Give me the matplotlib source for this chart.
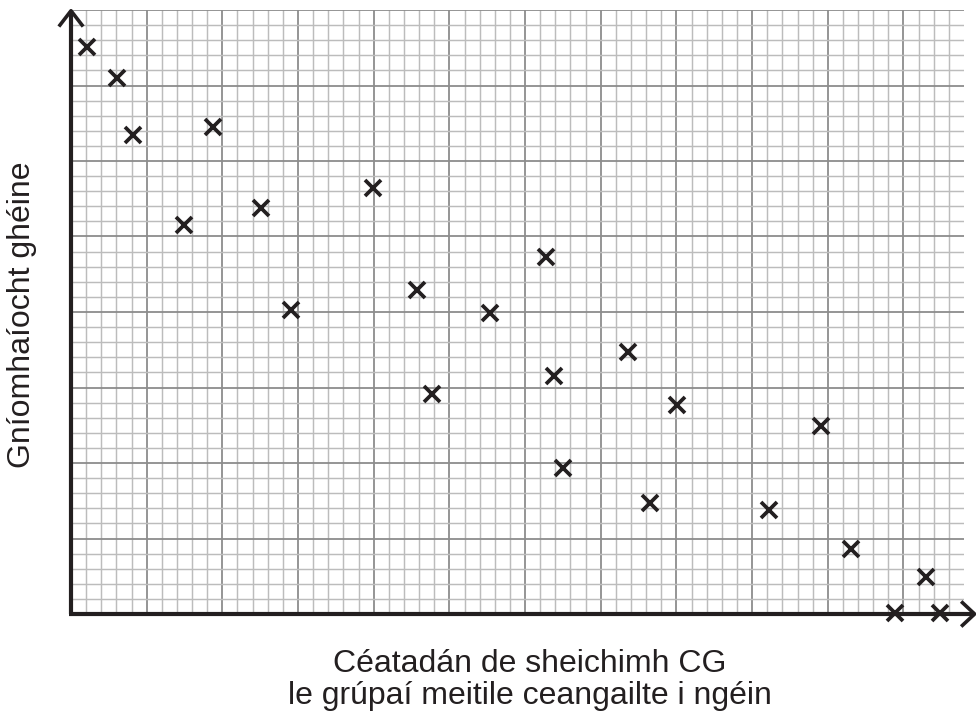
import matplotlib
matplotlib.use("Agg")
import matplotlib.pyplot as plt
import numpy as np

# Data (x in small grid squares, y in small grid squares)
x_vals = [1.04, 3.04, 4.11, 9.36, 7.48, 12.53, 14.53, 19.93, 22.83, 23.82, 27.67,
          31.37, 31.90, 32.52, 36.81, 38.24, 40.01, 46.12, 49.54, 51.52, 56.52,
          54.47, 57.44]
y_vals = [37.57, 35.48, 31.72, 32.27, 25.76, 26.87, 20.13, 28.19, 21.46, 14.55, 19.91,
          23.66, 15.76, 9.65, 17.37, 7.37, 13.84, 6.89, 12.45, 4.32, 2.47,
          0.05, 0.05]

x_label = "Céatadán de sheichimh CG\nle grúpaí meitile ceangailte i ngéin"
y_label = "Gníomhaíocht ghéine"

W, H = 976, 717
fig = plt.figure(figsize=(W / 100, H / 100), dpi=100)
left, right, top, bottom = 71, 964, 10, 614
ax = fig.add_axes([left / W, (H - bottom) / H, (right - left) / W, (bottom - top) / H])
ax.set_xlim(0, 59)
ax.set_ylim(0, 40)

# grid
for v in np.arange(1, 59):
    major = (v % 5 == 0)
    ax.axvline(v, color="#8c8c8c" if major else "#bcbcbc", lw=1.3 if major else 1.05, zorder=1)
for v in np.arange(1, 41):
    major = (v % 5 == 0)
    ax.axhline(v, color="#8c8c8c" if major else "#bcbcbc", lw=1.3 if major else 1.05, zorder=1)

for s in ax.spines.values():
    s.set_visible(False)
ax.set_xticks([])
ax.set_yticks([])

dark = "#231f20"
# axes lines with arrows
ax.plot([0, 0], [0, 39.95], color=dark, lw=3, clip_on=False, zorder=3, solid_capstyle="butt")
ax.plot([-0.73, 0, 0.73], [39.0, 39.95, 39.0], color=dark, lw=2.6, clip_on=False, zorder=3)
ax.plot([-0.1, 59.7], [0, 0], color=dark, lw=3, clip_on=False, zorder=3, solid_capstyle="butt")
ax.plot([58.9, 59.7, 58.9], [0.75, 0, -0.75], color=dark, lw=2.6, clip_on=False, zorder=3)

ax.plot(x_vals, y_vals, linestyle="none", marker="x", markersize=11.5,
        markeredgewidth=2.7, color=dark, clip_on=False, zorder=4)

fig.text(530 / W, 1 - 680 / H, x_label, ha="center", va="center", fontsize=23,
         family=["Liberation Sans", "DejaVu Sans"], color=dark, linespacing=1.1)
fig.text(22 / W, 1 - 315 / H, y_label, ha="center", va="center", fontsize=23,
         rotation=90, family=["Liberation Sans", "DejaVu Sans"], color=dark)

fig.savefig("out.png", dpi=100)
